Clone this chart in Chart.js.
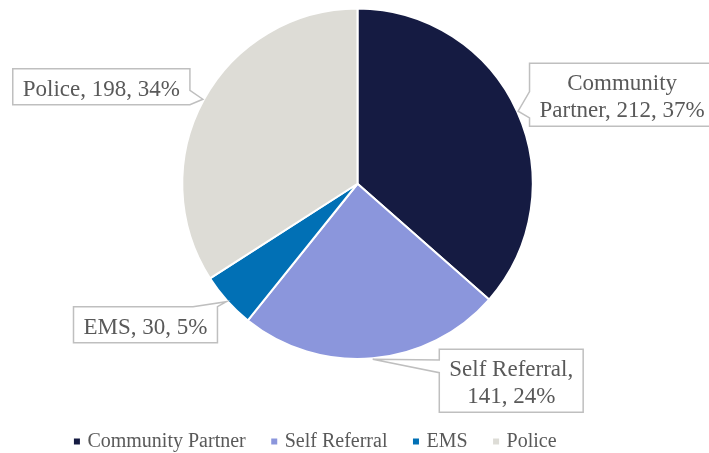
<!DOCTYPE html>
<html>
<head>
<meta charset="utf-8">
<script src="https://cdn.jsdelivr.net/npm/chart.js@4.4.1/dist/chart.umd.min.js"></script>
<style>
  html, body { margin: 0; padding: 0; background: #fff; }
  #wrap { width: 709px; height: 453px; position: relative; }
</style>
</head>
<body>
<div id="wrap"><canvas id="chart"></canvas></div>
<script>
const categories = ['Community Partner', 'Self Referral', 'EMS', 'Police'];
const counts = [212, 141, 30, 198];
const percents = [37, 24, 5, 34];
const sliceColors = ['#151b42', '#8b96dc', '#0170b5', '#dddcd6'];
// label wraps after this many words (0 = one line)
const wrapAfter = [1, 2, 0, 0];

const SERIF = '"Liberation Serif", "Times New Roman", serif';
const TEXT_GREY = '#595959';

function labelLines(i) {
	const words = `${categories[i]}, ${counts[i]}, ${percents[i]}%`.split(' ');
	const n = wrapAfter[i];
	if (!n) return [words.join(' ')];
	return [words.slice(0, n).join(' '), words.slice(n).join(' ')];
}

// box offsets from the tip on the slice edge, and where the pointer sits
const calloutLayout = [
	{dx: 104, dy: -16.5, side: 'left', from: 0.45, to: 0.87},
	{dx: 138.5, dy: 21.5, side: 'left', from: 0.17, to: 0.37},
	{dx: -81, dy: 23, side: 'top', from: 0.83, to: 1},
	{dx: -101.5, dy: -12.5, side: 'right', from: 0.6, to: 1},
];

const calloutPlugin = {
	id: 'callouts',
	afterDatasetsDraw(chart) {
		const ctx = chart.ctx;
		const arcs = chart.getDatasetMeta(0).data;
		ctx.save();
		ctx.font = `23px ${SERIF}`;
		arcs.forEach((arc, i) => {
			const mid = (arc.startAngle + arc.endAngle) / 2;
			const r = arc.outerRadius + 1;
			const tip = {x: arc.x + Math.cos(mid) * r, y: arc.y + Math.sin(mid) * r};
			const c = calloutLayout[i];
			const lines = labelLines(i);
			const w = Math.max(...lines.map(t => ctx.measureText(t).width)) + 20;
			const h = lines.length * 27 + 9;
			const cx = tip.x + c.dx, cy = tip.y + c.dy;
			const l = cx - w / 2, t = cy - h / 2, rr = l + w, b = t + h;

			const pts = [[l, t]];
			if (c.side === 'top') pts.push([l + c.from * w, t], [tip.x, tip.y], [l + c.to * w, t]);
			pts.push([rr, t]);
			if (c.side === 'right') pts.push([rr, t + c.from * h], [tip.x, tip.y], [rr, t + c.to * h]);
			pts.push([rr, b]);
			pts.push([l, b]);
			if (c.side === 'left') pts.push([l, t + c.to * h], [tip.x, tip.y], [l, t + c.from * h]);

			ctx.beginPath();
			pts.forEach((p, k) => k ? ctx.lineTo(p[0], p[1]) : ctx.moveTo(p[0], p[1]));
			ctx.closePath();
			ctx.fillStyle = '#ffffff';
			ctx.fill();
			ctx.lineWidth = 1.5;
			ctx.strokeStyle = '#bfbfbf';
			ctx.lineJoin = 'miter';
			ctx.stroke();

			ctx.fillStyle = TEXT_GREY;
			ctx.textAlign = 'center';
			ctx.textBaseline = 'alphabetic';
			lines.forEach((line, k) => ctx.fillText(line, cx, t + 27 + k * 27));
		});
		ctx.restore();
	}
};

// nudge the legend to where it sits in the original
const legendShift = {
	id: 'legendShift',
	afterLayout(chart) {
		const lg = chart.legend;
		const dy = 441.5 - (lg.top + lg.options.labels.padding + 10);
		const dx = -41;
		lg.top += dy; lg.bottom += dy;
		lg.left += dx; lg.right += dx;
	}
};

new Chart(document.getElementById('chart'), {
	type: 'pie',
	data: {
		labels: categories,
		datasets: [{
			data: counts,
			backgroundColor: sliceColors,
			borderColor: '#ffffff',
			borderWidth: 2,
			hoverBorderWidth: 2,
			hoverOffset: 0,
		}],
	},
	options: {
		responsive: true,
		maintainAspectRatio: false,
		animation: false,
		layout: {padding: {top: 7.5, bottom: 35, left: 6}},
		plugins: {
			tooltip: {enabled: false},
			legend: {
				position: 'bottom',
				labels: {
					usePointStyle: true,
					pointStyle: 'rect',
					boxWidth: 1,
					boxHeight: 8,
					padding: 28,
					color: TEXT_GREY,
					font: {family: SERIF, size: 20},
				},
			},
		},
	},
	plugins: [calloutPlugin, legendShift],
});
</script>
</body>
</html>
